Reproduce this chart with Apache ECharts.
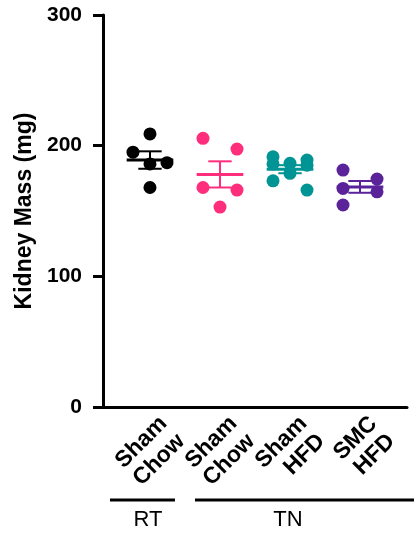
<!DOCTYPE html>
<html>
<head>
<meta charset="utf-8">
<script src="https://cdn.jsdelivr.net/npm/echarts@6/dist/echarts.min.js"></script>
<style>
  html, body { margin: 0; padding: 0; background: #ffffff; }
  #chart { width: 414px; height: 535px; }
</style>
</head>
<body>
<div id="chart"></div>
<script>
// Kidney mass per animal, grouped by housing temperature and treatment
const categories = ['Sham\nChow', 'Sham\nChow', 'Sham\nHFD', 'SMC\nHFD'];
const rtShamChow = [209, 195, 186, 187, 168];
const tnShamChow = [205.6, 197.4, 168, 166, 153];
const tnShamHfd = [191.5, 189, 186.5, 186, 185, 178.8, 173.1, 166];
const tnSmcHfd = [181.3, 174.4, 167.3, 164.7, 154.6];
const yTicks = [0, 100, 200, 300];
const conditions = [
  { label: 'RT', first: 0, last: 0 },
  { label: 'TN', first: 1, last: 3 }
];
const groupColors = ['#000000', '#FF2E7C', '#009494', '#5A2399'];
const groups = [rtShamChow, tnShamChow, tnShamHfd, tnSmcHfd];

// layout
const W = 414, H = 535;
const GRID = { left: 103, right: 7, top: 15, bottom: 128 };
const X_MIN = -0.671, X_MAX = 3.671;
const FONT = '"Liberation Sans", Arial, Helvetica, sans-serif';
const DOT = 13;
const COL_STEP_PX = 17;
const COLLIDE_PX = 12;
const ISOLATE_PX = 14;
const MEAN_HALF = 0.333;
const CAP_HALF = 0.167;
const LABEL_SHIFT = 0.32;
const LABEL_MARGIN = 22;

const yMin = yTicks[0], yMax = yTicks[yTicks.length - 1];
const plotH = H - GRID.top - GRID.bottom;
const plotW = W - GRID.left - GRID.right;
const pxPerY = plotH / (yMax - yMin);
const pxPerX = plotW / (X_MAX - X_MIN);
const colStep = COL_STEP_PX / pxPerX;

// spread overlapping dots into side columns
function swarmColumns(values) {
  const ys = values.map(v => v * pxPerY);
  const col = values.map(() => null);
  const isolated = ys.map((y, i) => ys.every((o, j) => j === i || Math.abs(o - y) >= ISOLATE_PX));
  isolated.forEach((iso, i) => { if (iso) col[i] = 0; });
  const order = ys.map((_, i) => i).filter(i => !isolated[i])
    .sort((a, b) => values[b] - values[a]);
  order.forEach(i => {
    let best = null, bestGap = -1;
    for (const c of [-1, 1, 0]) {
      let gap = Infinity;
      ys.forEach((y, j) => {
        if (j !== i && col[j] === c) gap = Math.min(gap, Math.abs(y - ys[i]));
      });
      if (gap >= COLLIDE_PX) { best = c; break; }
      if (gap > bestGap) { bestGap = gap; best = c; }
    }
    col[i] = best;
  });
  return col;
}

function meanSem(values) {
  const n = values.length;
  const m = values.reduce((a, b) => a + b, 0) / n;
  const sd = Math.sqrt(values.reduce((a, b) => a + (b - m) * (b - m), 0) / (n - 1));
  return [m, sd / Math.sqrt(n)];
}

const dotSeries = groups.map((vals, gi) => {
  const cols = swarmColumns(vals);
  return {
    type: 'scatter',
    symbol: 'circle',
    symbolSize: DOT,
    itemStyle: { color: groupColors[gi], opacity: 1 },
    z: 2,
    silent: true,
    data: vals.map((v, k) => [gi + cols[k] * colStep, v])
  };
});

const summary = groups.map((vals, gi) => [gi].concat(meanSem(vals)));

const errorSeries = {
  type: 'custom',
  z: 3,
  silent: true,
  data: summary,
  renderItem(params, api) {
    const gi = api.value(0), m = api.value(1), s = api.value(2);
    const c = api.coord([gi, m]);
    const top = api.coord([gi, m + s]);
    const bot = api.coord([gi, m - s]);
    const mh = api.size([MEAN_HALF, 0])[0];
    const ch = api.size([CAP_HALF, 0])[0];
    const color = groupColors[params.dataIndex];
    const ln = (x1, y1, x2, y2, w) => ({
      type: 'line',
      shape: { x1, y1, x2, y2 },
      style: { stroke: color, lineWidth: w, lineCap: 'butt' }
    });
    return {
      type: 'group',
      children: [
        ln(c[0], top[1], c[0], bot[1], 2),
        ln(c[0] - ch, top[1], c[0] + ch, top[1], 2),
        ln(c[0] - ch, bot[1], c[0] + ch, bot[1], 2),
        ln(c[0] - mh, c[1], c[0] + mh, c[1], 3)
      ]
    };
  }
};

// slanted two-line group names under the x axis
const categorySeries = {
  type: 'custom',
  silent: true,
  clip: false,
  data: categories.map((_, i) => [i, yMin]),
  renderItem(params, api) {
    const p = api.coord([api.value(0) + LABEL_SHIFT, api.value(1)]);
    return {
      type: 'text',
      x: p[0],
      y: p[1] + LABEL_MARGIN,
      rotation: Math.PI / 4,
      style: {
        text: categories[params.dataIndex],
        fill: '#000',
        font: 'bold 23px ' + FONT,
        lineHeight: 25,
        align: 'right',
        verticalAlign: 'middle'
      }
    };
  }
};

const chart = echarts.init(document.getElementById('chart'), null, { renderer: 'canvas' });
chart.setOption({
  animation: false,
  backgroundColor: '#ffffff',
  grid: { left: GRID.left, right: GRID.right, top: GRID.top, bottom: GRID.bottom, containLabel: false },
  xAxis: {
    type: 'value',
    min: X_MIN,
    max: X_MAX,
    splitLine: { show: false },
    axisTick: { show: false },
    axisLabel: { show: false },
    axisLine: { show: true, onZero: false, lineStyle: { color: '#000', width: 3 } }
  },
  yAxis: {
    type: 'value',
    min: yMin,
    max: yMax,
    interval: yTicks[1] - yTicks[0],
    name: 'Kidney Mass (mg)',
    nameLocation: 'middle',
    nameRotate: 90,
    nameGap: 62,
    nameTextStyle: { color: '#000', fontFamily: FONT, fontWeight: 'bold', fontSize: 23 },
    splitLine: { show: false },
    axisLine: { show: true, onZero: false, lineStyle: { color: '#000', width: 3 } },
    axisTick: { show: true, length: 10, lineStyle: { color: '#000', width: 3 } },
    axisLabel: {
      margin: 21,
      color: '#000',
      fontFamily: FONT,
      fontWeight: 'bold',
      fontSize: 21,
      formatter: v => String(v)
    }
  },
  series: dotSeries.concat([errorSeries, categorySeries])
});

// condition brackets beneath the group labels
const axisY = chart.convertToPixel({ yAxisIndex: 0 }, yMin);
const gx = i => chart.convertToPixel({ xAxisIndex: 0 }, i);
const bracketPad = [[40, 25], [25, 60]];
const graphics = [];
conditions.forEach((cond, k) => {
  const x1 = gx(cond.first) - bracketPad[k][0];
  const x2 = gx(cond.last) + bracketPad[k][1];
  const lineY = axisY + 93;
  graphics.push({
    type: 'line',
    shape: { x1, y1: lineY, x2, y2: lineY },
    style: { stroke: '#000', lineWidth: 3 },
    silent: true
  });
  graphics.push({
    type: 'text',
    x: (gx(cond.first) + gx(cond.last)) / 2 - 2,
    y: lineY + 20,
    style: {
      text: cond.label,
      fill: '#000',
      font: '22px ' + FONT,
      align: 'center',
      verticalAlign: 'middle'
    },
    silent: true
  });
});
chart.setOption({ graphic: graphics });
</script>
</body>
</html>
